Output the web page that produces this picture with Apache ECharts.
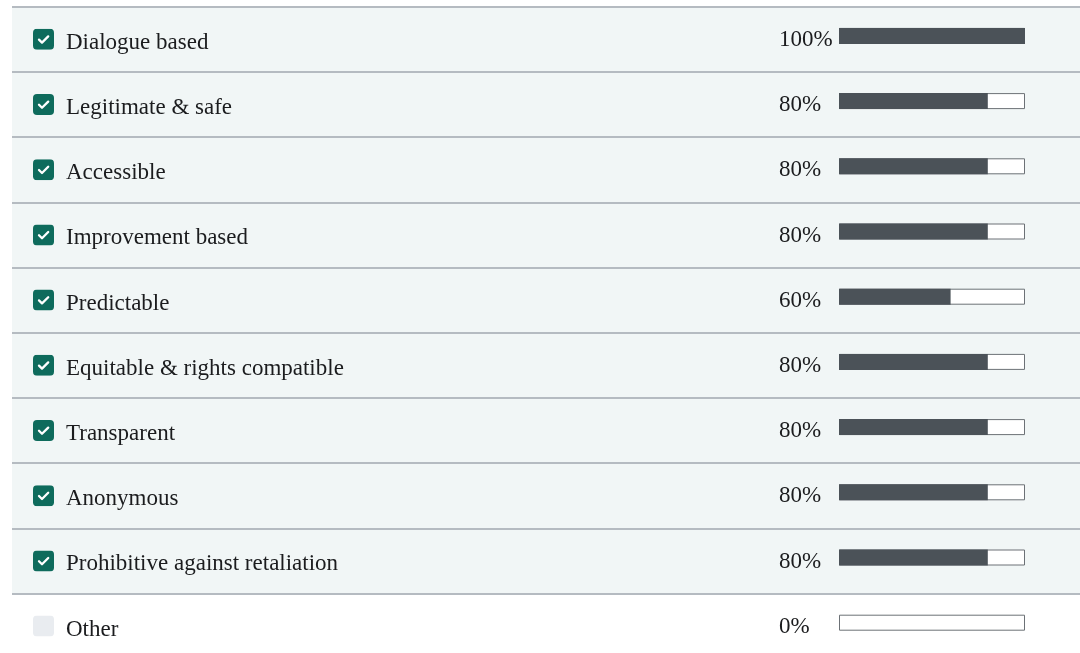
<!DOCTYPE html>
<html>
<head>
<meta charset="utf-8">
<style>
  html, body { margin: 0; padding: 0; background: #ffffff; }
  #chart { width: 1080px; height: 653px; }
</style>
<script src="https://cdn.jsdelivr.net/npm/echarts@6/dist/echarts.min.js"></script>
</head>
<body>
<div id="chart"></div>
<script>
// Principles of the grievance mechanism and how many respondents ticked each
const principles = [
  'Dialogue based',
  'Legitimate & safe',
  'Accessible',
  'Improvement based',
  'Predictable',
  'Equitable & rights compatible',
  'Transparent',
  'Anonymous',
  'Prohibitive against retaliation',
  'Other'
];
const shares = [100, 80, 80, 80, 60, 80, 80, 80, 80, 0];
const checked = [true, true, true, true, true, true, true, true, true, false];
const fullScale = [100, 100, 100, 100, 100, 100, 100, 100, 100, 100];

const ROW_BG = '#f1f6f6';
const SERIF = '"Liberation Serif", "DejaVu Serif", serif';

// checkbox artwork used as rich-text backgrounds
const boxSvg = (fill, tick) =>
  'data:image/svg+xml;charset=utf-8,' + encodeURIComponent(
    '<svg xmlns="http://www.w3.org/2000/svg" width="21" height="21" viewBox="0 0 21 21">' +
    '<rect x="0" y="0" width="21" height="21" rx="4" ry="4" fill="' + fill + '"/>' +
    (tick ? '<path d="M6 10.8 L9 13.8 L15.2 7.6" fill="none" stroke="#ffffff" stroke-width="2.3" stroke-linecap="round" stroke-linejoin="round"/>' : '') +
    '</svg>'
  );
const BOX_ON = boxSvg('#0e6b5c', true);
const BOX_OFF = boxSvg('#e9ecf0', false);

const rowColors = principles.map((_, i) => (checked[i] ? ROW_BG : '#ffffff'));

const chart = echarts.init(document.getElementById('chart'), null, { renderer: 'canvas' });

chart.setOption({
  animation: false,
  backgroundColor: '#ffffff',
  grid: [
    // full-width row band with separators, checkboxes and names
    { left: 12, right: 0, top: 6.7, height: 652, outerBoundsMode: 'none' },
    // progress bars
    { left: 839, width: 186, top: 3.3, height: 652, outerBoundsMode: 'none' }
  ],
  xAxis: [
    { gridIndex: 0, type: 'value', min: 0, max: 1, show: false },
    { gridIndex: 1, type: 'value', min: 0, max: 100, show: false }
  ],
  yAxis: [
    {
      gridIndex: 0,
      type: 'category',
      inverse: true,
      data: principles,
      axisLine: { show: false },
      axisTick: { show: false },
      splitLine: { show: true, lineStyle: { color: '#b5bbc1', width: 2 } },
      splitArea: { show: true, areaStyle: { color: rowColors } },
      axisLabel: {
        inside: true,
        margin: 21,
        align: 'left',
        verticalAlign: 'middle',
        formatter: (value, index) =>
          (checked[index] ? '{on|}' : '{off|}') + '{name|' + value + '}',
        rich: {
          on: {
            width: 21, height: 21,
            backgroundColor: { image: BOX_ON }
          },
          off: {
            width: 21, height: 21,
            backgroundColor: { image: BOX_OFF }
          },
          name: {
            padding: [7, 0, 0, 12],
            fontFamily: SERIF,
            fontSize: 23,
            color: '#1b1c1e'
          }
        }
      }
    },
    {
      gridIndex: 1,
      type: 'category',
      inverse: true,
      data: principles,
      axisLine: { show: false },
      axisTick: { show: false },
      splitLine: { show: false },
      axisLabel: {
        margin: 60,
        align: 'left',
        verticalAlign: 'middle',
        formatter: (value, index) => '{p|' + shares[index] + '%}',
        rich: {
          p: {
            padding: [8, 0, 0, 0],
            fontFamily: SERIF,
            fontSize: 23,
            color: '#1b1c1e'
          }
        }
      }
    }
  ],
  series: [
    {
      name: 'scale',
      type: 'bar',
      xAxisIndex: 1,
      yAxisIndex: 1,
      data: fullScale,
      barWidth: 16,
      barGap: '-100%',
      silent: true,
      itemStyle: { color: '#ffffff', borderColor: '#6c7176', borderWidth: 1 }
    },
    {
      name: 'share',
      type: 'bar',
      xAxisIndex: 1,
      yAxisIndex: 1,
      data: shares,
      barWidth: 16,
      barGap: '-100%',
      itemStyle: { color: '#4b5258' }
    }
  ]
});
</script>
</body>
</html>
